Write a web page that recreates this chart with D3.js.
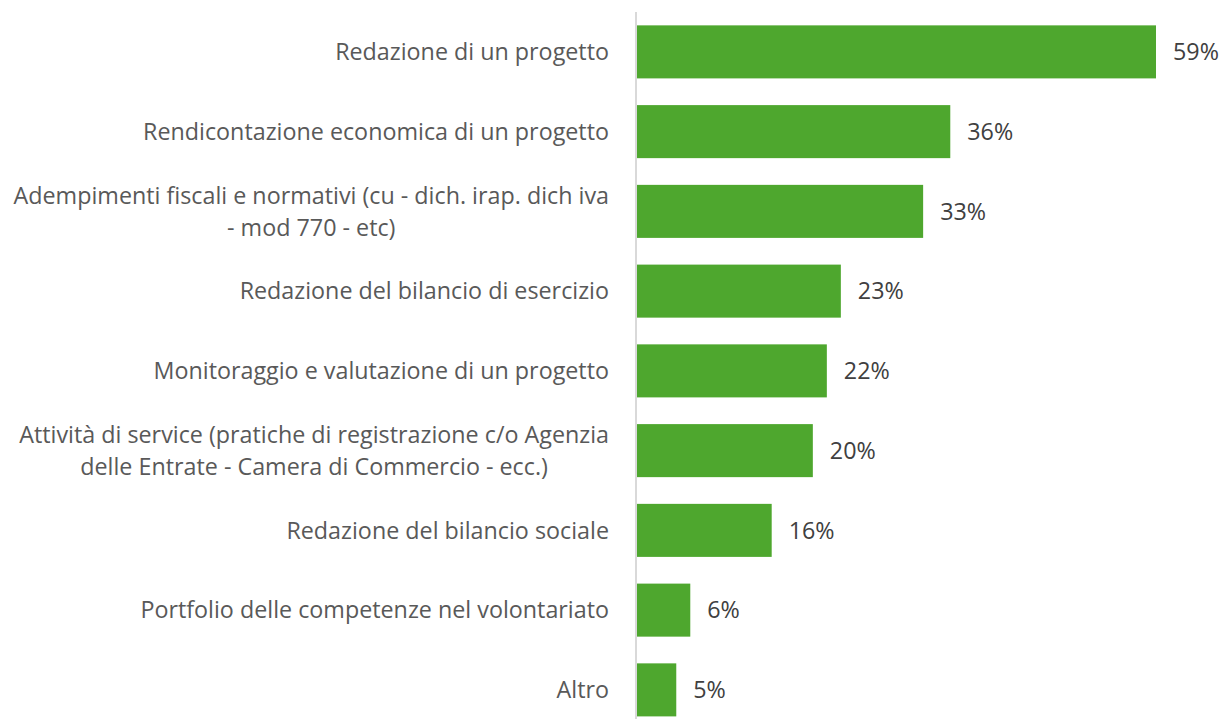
<!DOCTYPE html>
<html>
<head>
<meta charset="utf-8">
<script src="https://cdn.jsdelivr.net/npm/d3@7"></script>
<style>
  html, body { margin: 0; padding: 0; background: #ffffff; }
  svg { display: block; }
  text { font-family: "Open Sans", sans-serif; }
</style>
</head>
<body>
<svg id="chart" width="1221" height="719"></svg>
<script>
// ---- Data ----
const categories = [
  ["Redazione di un progetto"],
  ["Rendicontazione economica di un progetto"],
  ["Adempimenti fiscali e normativi (cu - dich. irap. dich iva", "- mod 770 - etc)"],
  ["Redazione del bilancio di esercizio"],
  ["Monitoraggio e valutazione di un progetto"],
  ["Attività di service (pratiche di registrazione c/o Agenzia", "delle Entrate - Camera di Commercio - ecc.)"],
  ["Redazione del bilancio sociale"],
  ["Portfolio delle competenze nel volontariato"],
  ["Altro"]
];
const values = [0.594, 0.359, 0.328, 0.234, 0.218, 0.202, 0.155, 0.062, 0.046];
const valueFormat = d3.format(".0%");

// ---- Layout ----
const svg = d3.select("#chart");
const axisX = 636;
const plotTop = 12;
const step = 79.75;
const fontSize = 23.3;

const keys = categories.map((c, i) => i);
const y = d3.scaleBand()
  .domain(keys)
  .range([plotTop, plotTop + step * keys.length])
  .paddingInner(0.335)
  .paddingOuter(0.1675);

const x = d3.scaleLinear()
  .domain([0, 0.594])
  .range([axisX, 1156]);

// axis line
const axis = d3.axisLeft(y).tickSize(0).tickFormat("");
svg.append("g")
  .attr("transform", `translate(${axisX},0)`)
  .call(axis)
  .call(g => g.select(".domain").attr("stroke", "#d9d9d9").attr("stroke-width", 2).attr("d", `M0,${plotTop}V740`));

// bars
svg.append("g").selectAll("rect")
  .data(values)
  .join("rect")
  .attr("x", x(0) + 1)
  .attr("y", (d, i) => y(i))
  .attr("width", d => x(d) - x(0) - 1)
  .attr("height", y.bandwidth())
  .attr("fill", "#4ea72e");

// value labels
svg.append("g").selectAll("text")
  .data(values)
  .join("text")
  .attr("x", d => x(d) + 17)
  .attr("y", (d, i) => y(i) + y.bandwidth() / 2)
  .attr("dy", "0.35em")
  .attr("font-size", fontSize)
  .attr("fill", "#404040")
  .text(d => valueFormat(d));

// category labels (block right-aligned, lines centred within block)
const labelRight = axisX - 27;
const lineH = 32;
const lg = svg.append("g");
categories.forEach((lines, i) => {
  const cy = y(i) + y.bandwidth() / 2;
  const g = lg.append("g");
  const texts = lines.map((ln, j) => g.append("text")
    .attr("font-size", fontSize)
    .attr("fill", "#595959")
    .attr("text-anchor", "middle")
    .attr("y", cy + (j - (lines.length - 1) / 2) * lineH)
    .attr("dy", "0.35em")
    .text(ln));
  const maxW = d3.max(texts, t => t.node().getComputedTextLength());
  texts.forEach(t => t.attr("x", labelRight - maxW / 2));
});
</script>
</body>
</html>
